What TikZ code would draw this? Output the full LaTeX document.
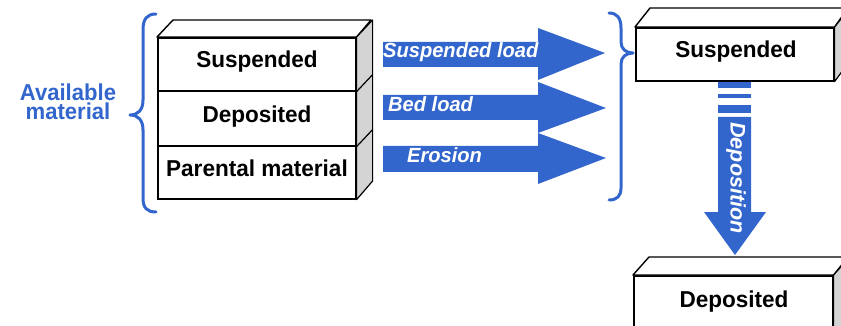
\documentclass[tikz,border=0pt]{standalone}
\usepackage{fontspec}
\setmainfont{Liberation Sans}
\definecolor{flowblue}{RGB}{51,102,204}
\definecolor{sidegray}{RGB}{212,212,212}
\tikzset{
  face/.style={draw=black, line width=1.6pt, fill=white, inner sep=0pt, anchor=north west},
  sideface/.style={draw=black, line width=1.2pt, fill=sidegray, line join=round},
  topface/.style={draw=black, line width=1.4pt, fill=white, line join=round},
  boxtext/.style={font=\fontsize{23}{24}\selectfont\bfseries, anchor=base, inner sep=0pt, xscale=0.98},
  flowtext/.style={font=\fontsize{20.5}{22}\selectfont\bfseries\itshape, text=white, inner sep=0pt, xscale=0.98},
  bluetext/.style={font=\fontsize{23}{19}\selectfont\bfseries, text=flowblue, inner sep=0pt, xscale=0.96, align=center},
  brace/.style={draw=flowblue, line width=3pt, line cap=round, line join=round},
  flow/.style={fill=flowblue},
}
\begin{document}
\begin{tikzpicture}[x=1pt,y=-1pt]
\useasboundingbox (0,0) rectangle (841,326);
\clip (0,0) rectangle (841,326);

% ---- stack of available material ----
\node[face, minimum width=198, minimum height=53] (s1) at (157,37) {};
\node[face, minimum width=198, minimum height=55] (s2) at (157,90) {};
\node[face, minimum width=198, minimum height=53] (s3) at (157,145) {};
\draw[topface] (s1.north west) -- ++(16,-17) -- ++(198,0) -- (s1.north east) -- cycle;
\draw[sideface] (s3.south east) -- (s1.north east) -- ++(16,-17) -- ++(0,161) -- cycle;
\draw[line width=1.2pt] (s1.south east) -- ++(16,-17);
\draw[line width=1.2pt] (s2.south east) -- ++(16,-17);
\node[boxtext] (t1) at (257,68) {Suspended};
\node[boxtext] (t2) at (257,123) {Deposited};
\node[boxtext] (t3) at (257,177) {Parental material};

% ---- left brace and its label ----
\draw[brace] (156,14) .. controls (147,14) and (143,19) .. (143,30) -- (143,100)
  .. controls (143,110) and (138,115) .. (130,115)
  .. controls (138,115) and (143,120) .. (143,130) -- (143,198)
  .. controls (143,208) and (147,212) .. (156,212);
\node[bluetext] (avail) at (68,102) {Available\\material};

% ---- transport arrows ----
\fill[flow] (383,42) -- (538,42) -- (538,28) -- (605,53) -- (538,80) -- (538,67) -- (383,67) -- cycle;
\fill[flow] (383,95) -- (538,95) -- (538,82) -- (606,108) -- (538,133) -- (538,120) -- (383,120) -- cycle;
\fill[flow] (383,146) -- (538,146) -- (538,133) -- (606,158) -- (538,184) -- (538,172) -- (383,172) -- cycle;
\node[flowtext, anchor=base west] (a1) at (383,58) {Suspended load};
\node[flowtext, anchor=base west] (a2) at (388,112) {Bed load};
\node[flowtext, anchor=base west] (a3) at (407,163) {Erosion};

% ---- right brace ----
\draw[brace] (609,13) .. controls (617,13) and (621,18) .. (621,28) -- (621,42)
  .. controls (621,49) and (626,53) .. (633,53)
  .. controls (626,53) and (621,57) .. (621,64) -- (621,188)
  .. controls (621,196) and (617,200) .. (609,200);

% ---- suspended box ----
\node[face, minimum width=198, minimum height=53] (r1) at (635,27) {};
\draw[topface] (r1.north west) -- ++(15,-19) -- ++(198,0) -- (r1.north east) -- cycle;
\draw[sideface] (r1.south east) -- (r1.north east) -- ++(15,-19) -- ++(0,53) -- cycle;
\node[boxtext] (r1t) at (736,58) {Suspended};

% ---- deposition arrow ----
\fill[flow] (718,82) rectangle (751,88);
\fill[flow] (718,94) rectangle (751,98);
\fill[flow] (718,105) rectangle (751,113);
\fill[flow] (718,117) -- (751,117) -- (751,212) -- (766,212) -- (735,255) -- (704,212) -- (718,212) -- cycle;
\node[flowtext, rotate=-90, font=\fontsize{21.5}{22}\selectfont\bfseries\itshape] (dep) at (736,178) {Deposition};

% ---- deposited box ----
\node[face, minimum width=199, minimum height=70] (r2) at (633,275) {};
\draw[topface] (r2.north west) -- ++(16,-18) -- ++(199,0) -- (r2.north east) -- cycle;
\draw[sideface] (r2.south east) -- (r2.north east) -- ++(16,-18) -- ++(0,70) -- cycle;
\node[boxtext] (r2t) at (734,307) {Deposited};
\end{tikzpicture}
\end{document}
